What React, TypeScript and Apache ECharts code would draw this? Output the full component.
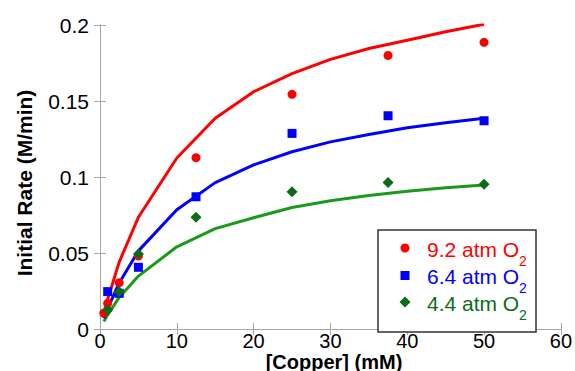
import React, { useEffect, useRef } from "react";
import * as echarts from "echarts";

// Fitted curve sample positions (mM) and values (M/min)
const curveX = [0.5, 1, 2.5, 5, 10, 15, 20, 25, 30, 35, 40, 45, 50];
const curve92 = [0.0102, 0.0196, 0.044, 0.0735, 0.1125, 0.1386, 0.1561, 0.168, 0.1774, 0.1845, 0.19, 0.1955, 0.2005];
const curve64 = [0.0071, 0.0136, 0.0303, 0.0514, 0.0785, 0.0963, 0.108, 0.1166, 0.1231, 0.128, 0.1324, 0.1357, 0.1386];
const curve44 = [0.005, 0.0093, 0.0208, 0.0348, 0.0541, 0.066, 0.0732, 0.0799, 0.0844, 0.0879, 0.0907, 0.093, 0.0948];

// Measured points
const ptX92 = [0.5, 1, 2.5, 5, 12.5, 25, 37.5, 50];
const pt92 = [0.0105, 0.0169, 0.0305, 0.048, 0.1127, 0.1544, 0.18, 0.1886];
const ptX64 = [1, 2.5, 5, 12.5, 25, 37.5, 50];
const pt64 = [0.0246, 0.0235, 0.0406, 0.087, 0.1287, 0.1403, 0.137];
const ptX44 = [1, 2.5, 5, 12.5, 25, 37.5, 50];
const pt44 = [0.0125, 0.0245, 0.0493, 0.0735, 0.0903, 0.0963, 0.0952];

const legendLabels = ["9.2 atm O", "6.4 atm O", "4.4 atm O"];
const xTitle = "[Copper] (mM)";
const yTitle = "Initial Rate (M/min)";

const RED = "#ff0000";
const BLUE = "#0000ff";
const GREEN_LINE = "#1a9a1a";
const GREEN_MARK = "#0b6b1b";
const AXIS = "#a6a6a6";
const FONT = "'Liberation Sans', Arial, sans-serif";

const zip = (xs: number[], ys: number[]) => xs.map((x, i) => [x, ys[i]]);

export default function App() {
  const ref = useRef<HTMLDivElement>(null);
  useEffect(() => {
    if (!ref.current) return;
    const chart = echarts.init(ref.current, null, { renderer: "svg" });
    const axisCommon = {
      type: "value" as const,
      axisLine: { show: true, lineStyle: { color: AXIS, width: 1 } },
      axisTick: { show: true, inside: true, length: 6, lineStyle: { color: AXIS } },
      splitLine: { show: false },
    };
    const legendX = 378;
    const legendY = 230;
    const rowY = [249, 276, 303];
    const markX = 405;
    const textX = 427;
    const subX = 519;
    const textColors = [RED, BLUE, GREEN_MARK];
    const markers: any[] = [
      { type: "circle", shape: { cx: markX, cy: rowY[0] - 1, r: 4.5 }, style: { fill: RED } },
      { type: "rect", shape: { x: markX - 4.5, y: rowY[1] - 5, width: 9, height: 9 }, style: { fill: BLUE } },
      {
        type: "polygon",
        shape: { points: [[markX, rowY[2] - 6.5], [markX + 5.5, rowY[2] - 1], [markX, rowY[2] + 4.5], [markX - 5.5, rowY[2] - 1]] },
        style: { fill: GREEN_MARK },
      },
    ];
    const legendTexts: any[] = [];
    legendLabels.forEach((t, i) => {
      legendTexts.push({
        type: "text",
        x: textX,
        y: rowY[i],
        style: { text: t, fill: textColors[i], font: `21px ${FONT}`, align: "left", verticalAlign: "middle" },
      });
      legendTexts.push({
        type: "text",
        x: subX,
        y: rowY[i] + 12,
        style: { text: "2", fill: textColors[i], font: `14px ${FONT}`, align: "left", verticalAlign: "middle" },
      });
    });

    chart.setOption({
      animation: false,
      backgroundColor: "#ffffff",
      textStyle: { fontFamily: FONT },
      grid: { left: 100, right: 12, top: 25, bottom: 42 },
      xAxis: [
        {
          ...axisCommon,
          position: "bottom",
          min: 0,
          max: 60,
          interval: 10,
          axisLabel: { color: "#000", fontSize: 20, lineHeight: 20, margin: 2, fontFamily: FONT },
        },
        {
          ...axisCommon,
          position: "top",
          min: 0,
          max: 60,
          interval: 10,
          axisLabel: { show: false },
        },
      ],
      yAxis: [
        {
          ...axisCommon,
          position: "left",
          min: 0,
          max: 0.2,
          interval: 0.05,
          axisLabel: { color: "#000", fontSize: 21, margin: 11, fontFamily: FONT },
        },
        {
          ...axisCommon,
          position: "right",
          min: 0,
          max: 0.2,
          interval: 0.05,
          axisLabel: { show: false },
        },
      ],
      series: [
        { type: "line", data: zip(curveX, curve44), symbol: "none", lineStyle: { color: GREEN_LINE, width: 3 }, z: 2 },
        { type: "line", data: zip(curveX, curve64), symbol: "none", lineStyle: { color: BLUE, width: 3 }, z: 2 },
        { type: "line", data: zip(curveX, curve92), symbol: "none", lineStyle: { color: RED, width: 3 }, z: 2 },
        { type: "scatter", data: zip(ptX92, pt92), symbol: "circle", symbolSize: 9, itemStyle: { color: RED, opacity: 1 }, z: 3 },
        { type: "scatter", data: zip(ptX64, pt64), symbol: "rect", symbolSize: 9, itemStyle: { color: BLUE, opacity: 1 }, z: 4 },
        { type: "scatter", data: zip(ptX44, pt44), symbol: "diamond", symbolSize: [11, 11], itemStyle: { color: GREEN_MARK, opacity: 1 }, z: 5 },
      ],
      graphic: [
        {
          type: "text",
          x: 24,
          y: 183,
          rotation: Math.PI / 2,
          style: { text: yTitle, fill: "#000", font: `bold 21px ${FONT}`, align: "center", verticalAlign: "middle" },
        },
        {
          type: "text",
          x: 334,
          y: 361.5,
          style: { text: xTitle, fill: "#000", font: `bold 20px ${FONT}`, lineHeight: 19, align: "center", verticalAlign: "middle" },
        },
        {
          type: "rect",
          z: 10,
          shape: { x: legendX, y: legendY, width: 158, height: 102 },
          style: { fill: "#ffffff", stroke: "#333333", lineWidth: 1.5 },
        },
        ...markers.map((m) => ({ ...m, z: 11 })),
        ...legendTexts.map((t) => ({ ...t, z: 11 })),
      ],
    });
    return () => chart.dispose();
  }, []);
  return <div ref={ref} style={{ position: "fixed", left: 0, top: 0, width: 575, height: 371 }} />;
}
